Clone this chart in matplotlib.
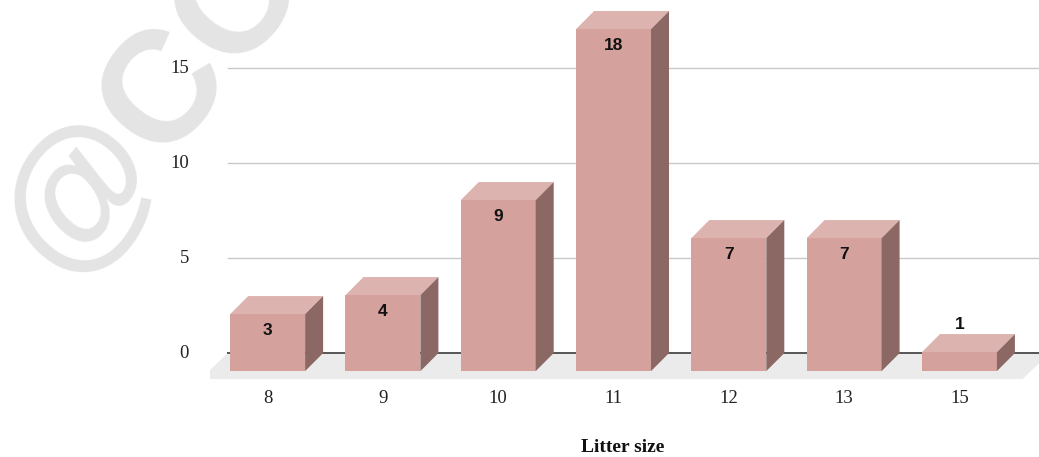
import matplotlib.pyplot as plt
from matplotlib.patches import Polygon

# data
categories = ['8', '9', '10', '11', '12', '13', '15']
counts = [3, 4, 9, 18, 7, 7, 1]
y_ticks = [0, 5, 10, 15]
x_title = 'Litter size'

front_color = '#D5A19D'
top_color = '#DDB3AF'
side_color = '#8B6864'
floor_color = '#EBEBEB'

fig = plt.figure(figsize=(10.39, 4.57), dpi=100)
ax = fig.add_axes([210 / 1039, 0, 829 / 1039, 1])
ax.set_xlim(-0.5, 6.69)
ax.set_ylim(-5.47, 18.58)
ax.axis('off')

# depth of the fake 3d boxes, in data units
dx = 0.156
dy = 0.95
half = 0.325

# watermark behind everything
fig.text(0.150, 0.777, '@CO', fontsize=114, color='#E4E4E4', rotation=51,
         ha='center', va='center', family='Liberation Sans', fontweight='bold',
         zorder=-1)

# floor
floor = Polygon([(-0.581, -1.37), (6.548, -1.37), (6.548 + 0.234, 0), (-0.347, 0)],
                closed=True, facecolor=floor_color, edgecolor='none', zorder=1)
ax.add_patch(floor)

for t in y_ticks[1:]:
    ax.plot([-0.347, 6.69], [t, t], color='#C9C9C9', lw=1.0, zorder=1)
ax.plot([-0.347, 6.69], [0, 0], color='#555555', lw=1.4, zorder=2)

for t in y_ticks:
    ax.text(-0.683, t, str(t), ha='right', va='center', fontsize=13.5,
            family='Liberation Serif', color='#222222')

for i, (cat, v) in enumerate(zip(categories, counts)):
    x0, x1 = i - half, i + half
    y0, y1 = -dy, v - dy
    ax.add_patch(Polygon([(x0, y0), (x1, y0), (x1, y1), (x0, y1)],
                         facecolor=front_color, edgecolor='none', zorder=4))
    ax.add_patch(Polygon([(x0, y1), (x1, y1), (x1 + dx, y1 + dy), (x0 + dx, y1 + dy)],
                         facecolor=top_color, edgecolor='none', zorder=4))
    ax.add_patch(Polygon([(x1, y0), (x1 + dx, y0 + dy), (x1 + dx, y1 + dy), (x1, y1)],
                         facecolor=side_color, edgecolor='none', zorder=4))
    if v >= 2:
        ly = y1 - 0.85
    else:
        ly = v + 0.5
    ax.text(i, ly, str(v), ha='center', va='center', fontsize=12.5,
            fontweight='bold', family='Liberation Sans', color='#111111', zorder=5)
    ax.text(i, -2.37, cat, ha='center', va='center', fontsize=13.5,
            family='Liberation Serif', color='#222222')

ax.text(3.08, -4.98, x_title, ha='center', va='center', fontsize=14,
        fontweight='bold', family='Liberation Serif', color='#111111')

fig.savefig('out.png', dpi=100)
